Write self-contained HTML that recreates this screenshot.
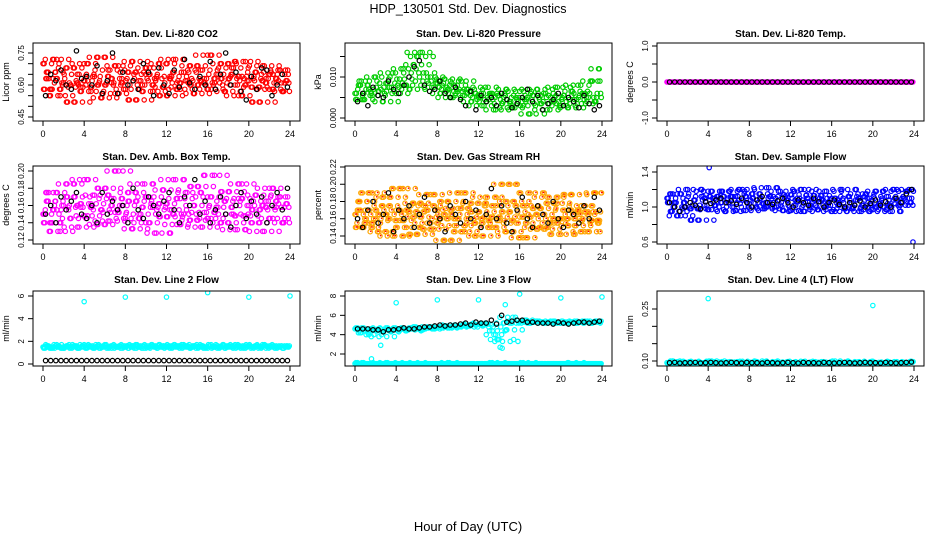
<!DOCTYPE html>
<html><head><meta charset="utf-8"><style>
body{margin:0;background:#fff;}
svg{display:block;font-family:"Liberation Sans",Arial,sans-serif;}
</style></head><body>
<svg id="c" width="936" height="540" viewBox="0 0 936 540" xmlns="http://www.w3.org/2000/svg">
<rect width="936" height="540" fill="#fff"/>
<text x="468" y="13" text-anchor="middle" font-size="12.5">HDP_130501  Std. Dev. Diagnostics</text>
<text x="468" y="531" text-anchor="middle" font-size="13">Hour of Day (UTC)</text>
</svg>
<script>
const hourTicks=[0,4,8,12,16,20,24];
const p1c=[70,66,58,63,72,55,61,68,60,52,65,59,70,62,57,64,73,54,60,67,61,56,69,63,58,66,71,53,62,60,65,68,57,63,70,59,55,64,72,61,58,66,62,69,56,60,67,63,74,58,61,65,70,57,63,68,60,55,64,71,62,59,66,52,69,63,58,65,61,67,57,62];
const p1b=[55,65,62,67,60,58,76,63,64,60,69,56,62,75,56,66,60,62,58,70,66,55,68,60,56,67,59,72,61,58,64,60,71,58,65,75,60,66,57,53,64,58,68,67,55,60,65,59];
const p2c=[60,80,45,90,70,55,100,65,40,85,75,110,60,95,120,80,70,130,150,160,110,90,100,75,85,60,95,70,50,80,65,90,55,70,40,60,50,30,75,45,60,20,55,35,70,40,25,50,65,30,45,10,55,70,35,60,20,50,40,75,30,55,25,65,45,80,35,60,50,90,40,120];
const p2b=[40,60,30,75,55,50,90,70,60,80,100,125,140,80,65,70,90,60,50,75,45,30,65,20,55,40,50,30,60,45,25,35,50,70,40,55,20,35,45,60,30,50,40,25,55,35,20,30];
const p3c=[0,0,0,0,0,0,0,0,0,0,0,0,0,0,0,0,0,0,0,0,0,0,0,0,0,0,0,0,0,0,0,0,0,0,0,0,0,0,0,0,0,0,0,0,0,0,0,0,0,0,0,0,0,0,0,0,0,0,0,0,0,0,0,0,0,0,0,0,0,0,0,0];
const p3b=[0,0,0,0,0,0,0,0,0,0,0,0,0,0,0,0,0,0,0,0,0,0,0,0,0,0,0,0,0,0,0,0,0,0,0,0,0,0,0,0,0,0,0,0,0,0,0,0];
const p4c=[150,165,140,175,155,130,160,185,145,170,135,158,190,148,162,172,138,155,180,142,168,152,200,160,145,175,133,165,150,185,140,170,158,128,162,178,147,155,190,138,168,150,175,143,160,182,135,152,170,145,195,158,140,165,176,150,132,168,185,148,160,140,172,155,130,165,180,145,158,170,140,162];
const p4b=[150,160,140,170,155,165,175,150,145,160,140,175,150,165,155,160,140,180,155,145,170,160,150,165,175,155,140,170,160,190,150,165,140,155,170,150,135,160,175,145,165,150,170,140,160,175,155,180];
const p5c=[165,180,150,170,155,190,160,145,175,165,185,140,170,158,195,150,168,178,142,162,175,155,188,148,170,160,135,180,165,152,172,190,145,160,178,155,168,140,185,162,150,175,158,200,145,168,180,155,162,138,175,190,150,165,172,148,185,160,155,178,142,170,160,188,152,165,175,145,168,158,190,155];
const p5b=[160,150,170,180,155,165,190,145,170,160,175,150,165,185,155,170,160,145,175,165,155,180,160,170,150,165,195,160,175,155,145,170,185,160,150,175,165,155,180,160,150,170,165,155,175,160,185,170];
const p5outH=[23.9];
const p5outV=[123];
const p6c=[110,95,105,115,90,100,120,98,108,85,112,102,118,97,110,112,105,95,118,100,112,108,120,96,104,115,100,110,98,122,105,112,100,118,96,108,114,102,110,95,120,106,100,113,97,108,118,102,110,95,105,120,98,112,100,108,95,115,102,110,97,118,104,100,112,95,108,120,102,110,118,105];
const p6b=[105,100,95,100,105,102,98,106,104,108,110,105,107,103,110,105,100,108,112,105,103,107,110,105,100,108,105,102,110,106,100,105,108,103,100,105,102,107,100,104,108,102,106,100,110,105,115,120];
const p6outH=[4.1,23.9];
const p6outV=[145,60];
const p7c=[15,16,14,15,17,15,14,16,15,16,14,15,17,16,15,14,16,15,17,15,14,16,15,16,15,14,16,17,15,16,14,15,16,15,17,16,15,14,16,15,16,17,15,14,16,15,16,15,14,17,15,16,15,14,16,15,17,16,15,14,16,15,16,15,17,14,16,15,16,15,14,16];
const p7b=[3,3,3,3,3,3,3,3,3,3,3,3,3,3,3,3,3,3,3,3,3,3,3,3,3,3,3,3,3,3,3,3,3,3,3,3,3,3,3,3,3,3,3,3,3,3,3,3];
const p7outH=[4,8,12,16,20,24];
const p7outV=[55,59,59,63,59,60];
const p8c=[46,42,47,44,40,46,45,38,43,47,44,46,45,46,47,44,46,48,47,45,46,48,47,46,47,48,49,47,48,50,49,48,50,49,51,50,51,50,52,48,44,40,35,33,45,52,58,52,53,54,55,52,53,54,53,52,53,54,53,52,52,53,52,53,54,52,53,54,53,52,54,53];
const p8low=[10,10,11,10,10,9,10,10,10,11,10,10,10,10,10,10,11,10,10,10,10,9,10,10,10,10,10,11,10,10,10,10,10,10,10,9,10,10,10,10,11,10,10,10,10,10,10,10,10,11,10,10,10,10,10,9,10,10,10,10,10,10,11,10,10,10,10,10,10,10,10,10];
const p8b=[46,46,46,45,45,43,45,45,46,47,46,46,47,48,48,49,50,49,50,50,51,52,50,53,52,52,55,51,60,53,54,55,55,53,53,52,52,52,51,53,52,51,52,53,53,52,53,54];
const p8outH=[4,8,12,16,20,24,2.5,14.1,14.3,13.8,14.6,1.6];
const p8outV=[73,76,76,82,78,79,29,27,26,35,71,15];
const p9c=[95,100,92,98,96,90,94,99,93,97,95,91,96,100,94,92,98,95,93,97,91,96,99,94,95,92,98,93,96,100,94,91,97,95,93,98,92,96,94,99,95,91,97,93,96,98,92,95,94,100,93,96,91,97,95,94,98,92,96,93,99,95,94,91,97,95,92,98,94,96,93,99];
const p9b=[95,96,94,95,95,96,94,95,96,95,94,95,96,95,94,96,95,95,94,96,95,94,95,96,95,94,96,95,95,94,96,95,94,95,96,95,94,95,96,95,95,94,96,95,94,95,96,97];
const p9outH=[4,12,20];
const p9outV=[280,330,260];

const svg=document.getElementById('c');
const NS='http://www.w3.org/2000/svg';
function mk(tag,attrs,parent){const e=document.createElementNS(NS,tag);for(const k in attrs)e.setAttribute(k,attrs[k]);(parent||svg).appendChild(e);return e;}
const cols=[{l:33,r:300,x0:43,x24:290},{l:345,r:612,x0:355,x24:602},{l:657,r:924,x0:667,x24:914}];
const rows=[{t:43,b:121,ty:37},{t:166,b:244,ty:160},{t:291,b:366,ty:283}];
const panels=[
 {title:'Stan. Dev. Li-820 CO2',ylab:'Licor ppm',a:[0.45,117],b:[0.75,53],ticks:[0.45,0.5,0.55,0.6,0.65,0.7,0.75],labs:['0.45','','','0.60','','','0.75'],s:[{v:p1c,k:0.01,c:'#ff0000',passes:6},{v:p1b,k:0.01,c:'#000',off:0.25}]},
 {title:'Stan. Dev. Li-820 Pressure',ylab:'kPa',a:[0,118],b:[0.01,77],ticks:[0,0.005,0.01,0.015],labs:['0.000','','0.010',''],s:[{v:p2c,k:0.0001,c:'#00cc00',passes:5},{v:p2b,k:0.0001,c:'#000',off:0.25}]},
 {title:'Stan. Dev. Li-820 Temp.',ylab:'degrees C',a:[-1,118],b:[1,46],ticks:[-1,-0.5,0,0.5,1],labs:['-1.0','','0.0','','1.0'],s:[{v:p3c,k:1,c:'#ff00ff',passes:3},{v:p3b,k:1,c:'#000',off:0.25}]},
 {title:'Stan. Dev. Amb. Box Temp.',ylab:'degrees C',a:[0.12,240],b:[0.20,171],ticks:[0.12,0.14,0.16,0.18,0.2],labs:['0.12','0.14','0.16','0.18','0.20'],s:[{v:p4c,k:0.001,c:'#ff00ff',passes:6},{v:p4b,k:0.001,c:'#000',off:0.25}]},
 {title:'Stan. Dev. Gas Stream RH',ylab:'percent',a:[0.14,236],b:[0.22,167],ticks:[0.14,0.16,0.18,0.2,0.22],labs:['0.14','0.16','0.18','0.20','0.22'],s:[{v:p5c,k:0.001,c:'#ffa500',dot:'#ff0000',passes:7},{h:p5outH,v:p5outV,k:0.001,c:'#ffa500',dot:'#ff0000'},{v:p5b,k:0.001,c:'#000',off:0.25}]},
 {title:'Stan. Dev. Sample Flow',ylab:'ml/min',a:[0.6,242],b:[1.4,172],ticks:[0.6,0.8,1.0,1.2,1.4],labs:['0.6','','1.0','','1.4'],s:[{v:p6c,k:0.01,c:'#0000ff',passes:6},{h:p6outH,v:p6outV,k:0.01,c:'#0000ff'},{v:p6b,k:0.01,c:'#000',off:0.25}]},
 {title:'Stan. Dev. Line 2 Flow',ylab:'ml/min',a:[0,364],b:[6,296],ticks:[0,2,4,6],labs:['0','2','4','6'],s:[{v:p7c,k:0.1,c:'#00ffff',passes:5},{h:p7outH,v:p7outV,k:0.1,c:'#00ffff'},{v:p7b,k:0.1,c:'#000',off:0.25}]},
 {title:'Stan. Dev. Line 3 Flow',ylab:'ml/min',a:[2,354],b:[8,296],ticks:[2,4,6,8],labs:['2','4','6','8'],s:[{v:p8low,k:0.1,c:'#00ffff',passes:4},{v:p8c,k:0.1,c:'#00ffff',passes:4},{h:p8outH,v:p8outV,k:0.1,c:'#00ffff'},{v:p8b,k:0.1,c:'#000',off:0.25}]},
 {title:'Stan. Dev. Line 4 (LT) Flow',ylab:'ml/min',a:[0.10,361],b:[0.25,309],ticks:[0.1,0.15,0.2,0.25],labs:['0.10','','','0.25'],s:[{v:p9c,k:0.001,c:'#00ffff',passes:4},{h:p9outH,v:p9outV,k:0.001,c:'#00ffff'},{v:p9b,k:0.001,c:'#000',off:0.25}]}
];
panels.forEach((p,i)=>{
 const C=cols[i%3],R=rows[Math.floor(i/3)];
 const g=mk('g',{});
 
 
 const xs=h=>C.x0+(C.x24-C.x0)*h/24;
 const ys=v=>p.a[1]+(p.b[1]-p.a[1])*(v-p.a[0])/(p.b[0]-p.a[0]);
 const clip='cl'+i;
 const cp=mk('clipPath',{id:clip},g);mk('rect',{x:C.l,y:R.t,width:C.r-C.l,height:R.b-R.t},cp);
 const t=mk('text',{x:(C.l+C.r)/2,y:R.ty,'text-anchor':'middle','font-size':'10','font-weight':'bold'},g);t.textContent=p.title;
 
 
 const marks=mk('g',{'clip-path':'url(#'+clip+')'},g);
 
 
 p.s.forEach(s=>{
  const n=s.v.length;
  const passes=s.passes||1;
  for(let k=0;k<passes;k++){
   s.v.forEach((v0,j)=>{
    // extra passes reuse nearby recorded values (scattered local neighbour)
    let idx=j+((7*j+2*k)%9)-4;
    if(idx<0) idx=-idx;
    if(idx>n-1) idx=2*(n-1)-idx;
    const v=k===0?v0:s.v[idx];
    let h;
    if(s.h) h=s.h[j];
    else if(s.off) h=0.25+j*23.5/(n-1);
    else h=(j+k/passes)*24/n;
    const cx=xs(h),cy=ys(v*s.k);
    const c=mk('circle',{cx:cx,cy:cy,r:2.2,fill:'none',stroke:s.c,'stroke-width':1.2},marks);
    
    
    if(s.dot){mk('circle',{cx:cx+0.6,cy:cy-0.4,r:0.8,fill:s.dot},marks);}
   });
  }
 });
 const box=mk('rect',{x:C.l,y:R.t,width:C.r-C.l,height:R.b-R.t,fill:'none',stroke:'#000','stroke-width':1},g);
 
 
 hourTicks.forEach(h=>{
  const x=xs(h);
  mk('line',{x1:x,x2:x,y1:R.b,y2:R.b+5,stroke:'#000'},g);
  const tl=mk('text',{x:x,y:R.b+16,'text-anchor':'middle','font-size':'9'},g);tl.textContent=h;
  
  
 });
 p.ticks.forEach((v,j)=>{
  const y=ys(v);
  mk('line',{x1:C.l-5,x2:C.l,y1:y,y2:y,stroke:'#000'},g);
  if(p.labs[j]){
   const tl=mk('text',{x:C.l-9,y:y,'text-anchor':'middle','font-size':'8',transform:'rotate(-90 '+(C.l-9)+' '+y+')'},g);
   tl.textContent=p.labs[j];
   
   
  }
 });
 const yl=(R.t+R.b)/2;
 const ylab=mk('text',{x:C.l-24,y:yl,'text-anchor':'middle','font-size':'9',transform:'rotate(-90 '+(C.l-24)+' '+yl+')'},g);
 ylab.textContent=p.ylab;
 
 
});
</script>
</body></html>
